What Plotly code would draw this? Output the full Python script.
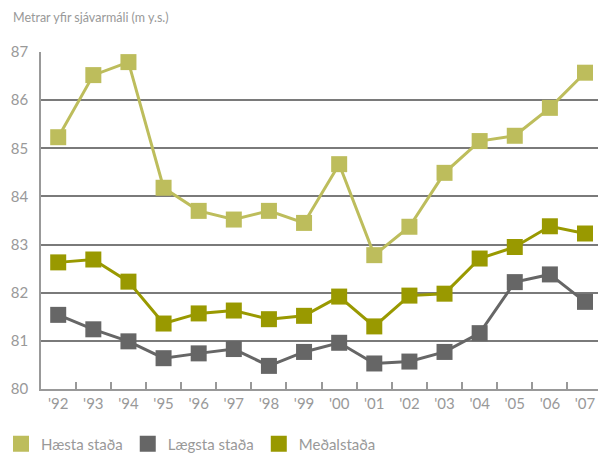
import plotly.graph_objects as go

years = ["'92", "'93", "'94", "'95", "'96", "'97", "'98", "'99",
         "'00", "'01", "'02", "'03", "'04", "'05", "'06", "'07"]
haesta = [85.23, 86.52, 86.79, 84.18, 83.70, 83.52, 83.70, 83.45,
          84.67, 82.78, 83.37, 84.49, 85.15, 85.26, 85.84, 86.57]
laegsta = [81.54, 81.24, 80.99, 80.64, 80.74, 80.83, 80.48, 80.77,
           80.96, 80.53, 80.57, 80.77, 81.16, 82.22, 82.38, 81.81]
medal = [82.63, 82.69, 82.23, 81.36, 81.57, 81.63, 81.45, 81.52,
         81.92, 81.30, 81.94, 81.98, 82.71, 82.95, 83.38, 83.23]
series_names = ["Hæsta staða", "Lægsta staða", "Meðalstaða"]
colors = ["#BDBD5C", "#666666", "#999900"]
y_ticks = [80, 81, 82, 83, 84, 85, 86, 87]

fig = go.Figure()
for name, vals, c in zip(series_names, [haesta, laegsta, medal], colors):
    fig.add_trace(go.Scatter(
        x=years, y=vals, mode="lines+markers", name=name,
        line=dict(color=c, width=3),
        marker=dict(symbol="square", size=16, color=c),
        showlegend=False, cliponaxis=False))
for name, c in zip(series_names, colors):
    fig.add_trace(go.Scatter(
        x=[None], y=[None], mode="markers", name=name,
        marker=dict(symbol="square", size=16, color=c)))

fig.update_layout(
    width=598, height=455,
    margin=dict(l=41, r=0, t=52, b=66),
    plot_bgcolor="white", paper_bgcolor="white",
    font=dict(family="Lato, Open Sans, sans-serif", color="#999999"),
    title=dict(text="Metrar yfir sjávarmáli (m y.s.)", x=13/598, xanchor="left",
               xref="container", y=1-18/455, yanchor="middle", yref="container",
               pad=dict(l=0, r=0, t=0, b=0),
               font=dict(size=12.5, color="#999999")),
    showlegend=True,
    legend=dict(orientation="h", xref="container", yref="container",
                x=1/598, xanchor="left", y=(455-444)/455, yanchor="middle",
                font=dict(size=15, color="#999999"), itemwidth=30,
                traceorder="normal"),
    xaxis=dict(type="category", range=[-0.49, 15.37], tickson="boundaries",
               ticks="inside", ticklen=7, tickwidth=1.5, tickcolor="#999999",
               showgrid=False, showline=True, linecolor="#999999", linewidth=1.5,
               automargin=False,
               tickfont=dict(size=15, color="#999999")),
    yaxis=dict(range=[80, 87], tickvals=y_ticks, showgrid=True,
               gridcolor="#7a7a7a", gridwidth=1.5, showline=True,
               linecolor="#999999", linewidth=1.5, zeroline=False,
               ticks="", ticklabelstandoff=8, automargin=False,
               tickfont=dict(size=15, color="#999999")),
)
fig.write_html("out.html", config={"displayModeBar": False},
               post_script="document.body.style.margin='0';document.body.style.padding='0';")
